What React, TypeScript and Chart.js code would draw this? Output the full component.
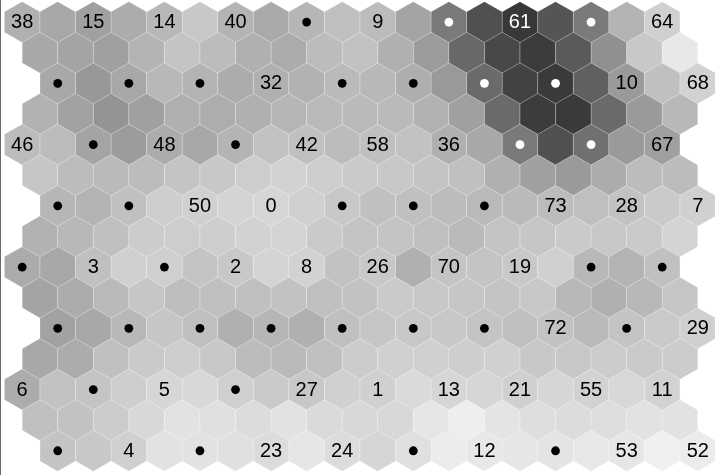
import React, { useEffect, useRef } from "react";
import { Chart, registerables } from "chart.js";

Chart.register(...registerables);

// U-matrix: grey level of each hexagon, one list per hexagon row (0 = black, 255 = white)
const uRow0 = [176, 168, 160, 172, 184, 200, 180, 170, 182, 192, 188, 164, 122, 80, 56, 85, 122, 180, 208];
const uRow1 = [168, 164, 160, 180, 196, 188, 176, 172, 188, 194, 176, 156, 104, 72, 60, 90, 144, 200, 232];
const uRow2 = [168, 152, 168, 184, 180, 172, 176, 178, 186, 184, 174, 153, 106, 66, 58, 96, 154, 192, 210];
const uRow3 = [178, 162, 148, 160, 176, 173, 176, 182, 186, 186, 186, 178, 160, 106, 60, 58, 106, 154, 184];
const uRow4 = [188, 188, 164, 156, 172, 168, 180, 194, 192, 188, 192, 194, 176, 168, 122, 80, 112, 154, 160];
const uRow5 = [198, 188, 186, 188, 196, 200, 205, 210, 206, 202, 200, 196, 192, 176, 160, 154, 172, 188, 188];
const uRow6 = [182, 180, 192, 206, 208, 212, 214, 208, 200, 192, 192, 188, 186, 186, 188, 191, 194, 202, 208];
const uRow7 = [178, 184, 192, 204, 205, 206, 210, 212, 202, 196, 196, 192, 186, 196, 198, 202, 200, 202, 212];
const uRow8 = [171, 168, 192, 208, 207, 196, 200, 212, 210, 194, 200, 176, 196, 196, 200, 208, 184, 180, 192];
const uRow9 = [164, 172, 186, 198, 190, 192, 192, 194, 192, 194, 202, 200, 198, 196, 200, 184, 176, 184, 198];
const uRow10 = [162, 168, 184, 198, 192, 176, 182, 176, 192, 198, 200, 200, 196, 192, 194, 186, 196, 202, 208];
const uRow11 = [168, 172, 192, 202, 206, 200, 188, 186, 192, 204, 208, 208, 206, 208, 200, 200, 204, 202, 204];
const uRow12 = [172, 194, 196, 206, 214, 216, 208, 202, 200, 208, 208, 218, 214, 214, 208, 214, 210, 216, 210];
const uRow13 = [192, 194, 204, 216, 226, 224, 220, 226, 218, 216, 216, 230, 238, 228, 222, 220, 222, 226, 226];
const uRow14 = [196, 200, 208, 226, 226, 224, 220, 230, 220, 214, 224, 236, 232, 230, 228, 232, 230, 240, 236];

const uRows = [uRow0, uRow1, uRow2, uRow3, uRow4, uRow5, uRow6, uRow7, uRow8, uRow9, uRow10, uRow11, uRow12, uRow13, uRow14];

// Map units (8 rows x 10 columns): sample label, "." = black dot, "o" = white dot
const units0 = ["38", "15", "14", "40", ".", "9", "o", "61", "o", "64"];
const units1 = [".", ".", ".", "32", ".", ".", "o", "o", "10", "68"];
const units2 = ["46", ".", "48", ".", "42", "58", "36", "o", "o", "67"];
const units3 = [".", ".", "50", "0", ".", ".", ".", "73", "28", "7"];
const units4 = [".", "3", ".", "2", "8", "26", "70", "19", ".", "."];
const units5 = [".", ".", ".", ".", ".", ".", ".", "72", ".", "29"];
const units6 = ["6", ".", "5", ".", "27", "1", "13", "21", "55", "11"];
const units7 = [".", "4", ".", "23", "24", ".", "12", ".", "53", "52"];

const unitRows = [units0, units1, units2, units3, units4, units5, units6, units7];

function rowOffset(r: number) {
  if (r % 2 === 1) return 0.5;
  return r % 4 === 0 ? 0 : 1;
}

type Cell = { x: number; y: number; g: number };
const cells: Cell[] = [];
uRows.forEach((row, r) => {
  row.forEach((g, c) => cells.push({ x: rowOffset(r) + c, y: r, g }));
});

type Unit = { x: number; y: number; label: string; g: number };
const units: Unit[] = [];
unitRows.forEach((row, i) => {
  row.forEach((label, j) => {
    units.push({ x: 2 * j + (i % 2), y: 2 * i, label, g: uRows[2 * i][2 * j] });
  });
});

const blackDots = units.filter((u) => u.label === ".");
const whiteDots = units.filter((u) => u.label === "o");
const textUnits = units.filter((u) => u.label !== "." && u.label !== "o");

const hexPlugin = {
  id: "hexCells",
  beforeDatasetsDraw(chart: any) {
    const ctx = chart.ctx as CanvasRenderingContext2D;
    const ys = chart.scales.y;
    const R = Math.abs(ys.getPixelForValue(1) - ys.getPixelForValue(0)) / 1.5;
    const meta = chart.getDatasetMeta(0);
    ctx.save();
    meta.data.forEach((el: any, i: number) => {
      const g = cells[i].g;
      ctx.beginPath();
      for (let k = 0; k < 6; k++) {
        const a = ((60 * k - 90) * Math.PI) / 180;
        const px = el.x + R * Math.cos(a);
        const py = el.y + R * Math.sin(a);
        if (k === 0) ctx.moveTo(px, py);
        else ctx.lineTo(px, py);
      }
      ctx.closePath();
      ctx.fillStyle = `rgb(${g},${g},${g})`;
      ctx.fill();
      ctx.strokeStyle = "rgba(255,255,255,0.16)";
      ctx.lineWidth = 0.8;
      ctx.stroke();
    });
    ctx.restore();
  },
  afterDatasetsDraw(chart: any) {
    const ctx = chart.ctx as CanvasRenderingContext2D;
    const meta = chart.getDatasetMeta(3);
    ctx.save();
    ctx.font = "20px 'Liberation Sans', Arial, Helvetica, sans-serif";
    ctx.textAlign = "center";
    ctx.textBaseline = "middle";
    meta.data.forEach((el: any, i: number) => {
      const u = textUnits[i];
      ctx.fillStyle = u.g < 100 ? "#ffffff" : "#000000";
      ctx.fillText(u.label, el.x, el.y + 0.5);
    });
    ctx.strokeStyle = "#6a6a6a";
    ctx.lineWidth = 1;
    ctx.beginPath();
    ctx.moveTo(0.5, 0);
    ctx.lineTo(0.5, chart.height);
    ctx.stroke();
    ctx.restore();
  },
};

export default function App() {
  const ref = useRef<HTMLCanvasElement | null>(null);
  useEffect(() => {
    if (!ref.current) return;
    const chart = new Chart(ref.current, {
      type: "scatter",
      data: {
        datasets: [
          {
            label: "cells",
            data: cells.map((c) => ({ x: c.x, y: c.y })),
            pointRadius: 0,
            pointHoverRadius: 0,
          },
          {
            label: "black",
            data: blackDots.map((u) => ({ x: u.x, y: u.y })),
            pointStyle: "circle",
            pointRadius: 4.4,
            pointHoverRadius: 4.4,
            backgroundColor: "#000000",
            borderWidth: 0,
          },
          {
            label: "white",
            data: whiteDots.map((u) => ({ x: u.x, y: u.y })),
            pointStyle: "circle",
            pointRadius: 4.4,
            pointHoverRadius: 4.4,
            backgroundColor: "#ffffff",
            borderWidth: 0,
          },
          {
            label: "labels",
            data: textUnits.map((u) => ({ x: u.x, y: u.y })),
            pointRadius: 0,
            pointHoverRadius: 0,
          },
        ],
      },
      options: {
        animation: false,
        responsive: true,
        maintainAspectRatio: false,
        layout: { padding: 0 },
        plugins: { legend: { display: false }, tooltip: { enabled: false } },
        events: [],
        scales: {
          x: { type: "linear", display: false, min: -0.5, max: -0.5 + 715 / 36 },
          y: { type: "linear", display: false, reverse: true, min: -18 / 31.2, max: -18 / 31.2 + 475 / 31.2 },
        },
      },
      plugins: [hexPlugin],
    });
    return () => chart.destroy();
  }, []);
  return (
    <div style={{ position: "fixed", left: 0, top: 0, width: 715, height: 475, background: "#ffffff" }}>
      <canvas ref={ref} />
    </div>
  );
}
